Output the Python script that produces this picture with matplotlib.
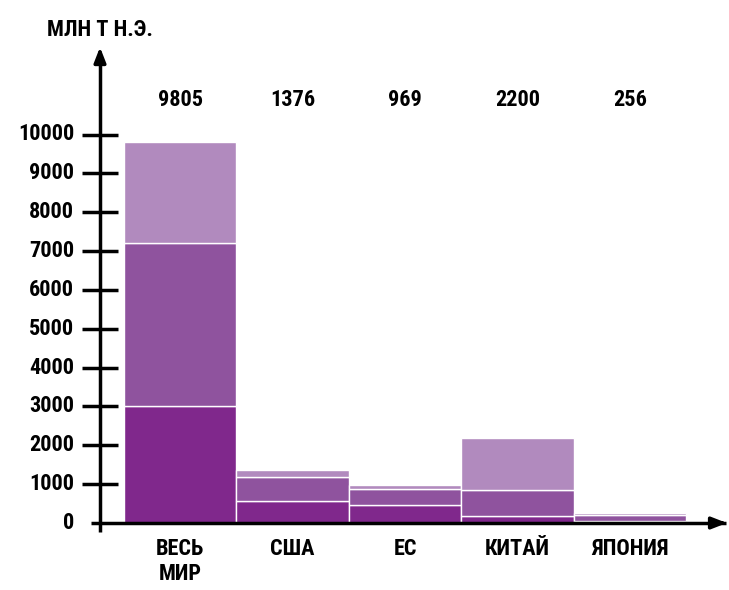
import matplotlib
matplotlib.use("Agg")
import matplotlib.pyplot as plt
from matplotlib import font_manager

# data
categories = ["ВЕСЬ\nМИР", "США", "ЕС", "КИТАЙ", "ЯПОНИЯ"]
totals = [9805, 1376, 969, 2200, 256]
part1 = [3000, 570, 460, 190, 60]
part2 = [4200, 610, 410, 650, 140]
part3 = [t - a - b for t, a, b in zip(totals, part1, part2)]
yticks = [0, 1000, 2000, 3000, 4000, 5000, 6000, 7000, 8000, 9000, 10000]
ylabel = "МЛН Т Н.Э."

colors = ["#80288c", "#8f539e", "#b18abe"]

# look for a narrow bold face
fonts = font_manager.fontManager.ttflist
names = {f.name for f in fonts}
stretch = "normal"
fam = "DejaVu Sans"
for cand in ["Roboto Condensed", "Liberation Sans Narrow", "Open Sans Condensed"]:
    if cand in names:
        fam = cand
        break
else:
    for cand in ["Roboto", "Open Sans", "Noto Sans", "DejaVu Sans"]:
        if any(f.name == cand and f.stretch in ("condensed", "semi-condensed", 87.5, 75, 62.5)
               for f in fonts):
            fam = cand
            stretch = "condensed"
            break
plt.rcParams["font.family"] = [fam, "DejaVu Sans"]
plt.rcParams["font.weight"] = "bold"
plt.rcParams["font.stretch"] = stretch
fs = 16 if stretch != "normal" or fam != "DejaVu Sans" else 12.5

W, H = 729, 590
fig = plt.figure(figsize=(W / 100, H / 100), dpi=100)

# axes placed in pixels: x from 100 to 728, y zero at 523 from top
x0, x1 = -0.713, 4.87
ymax = 12300
scale = 38.85 / 1000
ax = fig.add_axes([100 / W, 67 / H, 628 / W, ymax * scale / H])
ax.set_xlim(x0, x1)
ax.set_ylim(0, ymax)
ax.axis("off")

xs = range(len(categories))
bottom = [0] * len(categories)
for vals, c in zip([part1, part2, part3], colors):
    ax.bar(xs, vals, width=1.0, bottom=bottom, color=c, edgecolor="white", linewidth=1)
    bottom = [b + v for b, v in zip(bottom, vals)]

# axes with arrows
ax.plot([x0 - 0.08, x1 - 0.02], [0, 0], color="black", lw=2.5, clip_on=False, solid_capstyle="butt")
ax.annotate("", xy=(x1 + 0.015, 0), xytext=(x1 - 0.1, 0),
            arrowprops=dict(arrowstyle="-|>,head_length=0.9,head_width=0.35", color="black", lw=2.5),
            annotation_clip=False)
ax.plot([x0, x0], [-220, ymax - 300], color="black", lw=2.5, clip_on=False, solid_capstyle="butt")
ax.annotate("", xy=(x0, ymax + 20), xytext=(x0, ymax - 500),
            arrowprops=dict(arrowstyle="-|>,head_length=0.9,head_width=0.35", color="black", lw=2.5),
            annotation_clip=False)

# tick marks crossing the y axis
tl = 18 / 112.5
for t in yticks[1:]:
    ax.plot([x0 - tl, x0 + tl], [t, t], color="black", lw=2.5, clip_on=False, solid_capstyle="butt")
for t in yticks:
    ax.text(x0 - 26 / 112.5, t, str(t), ha="right", va="center", fontsize=fs)

for i, (c, t) in enumerate(zip(categories, totals)):
    ax.text(i, 10900, str(t), ha="center", va="center", fontsize=fs)
    ax.text(i, -380, c, ha="center", va="top", fontsize=fs, linespacing=1.2)

fig.text(100 / W, 1 - 30 / H, ylabel, ha="center", va="center", fontsize=fs)

fig.savefig("out.png", dpi=100)
